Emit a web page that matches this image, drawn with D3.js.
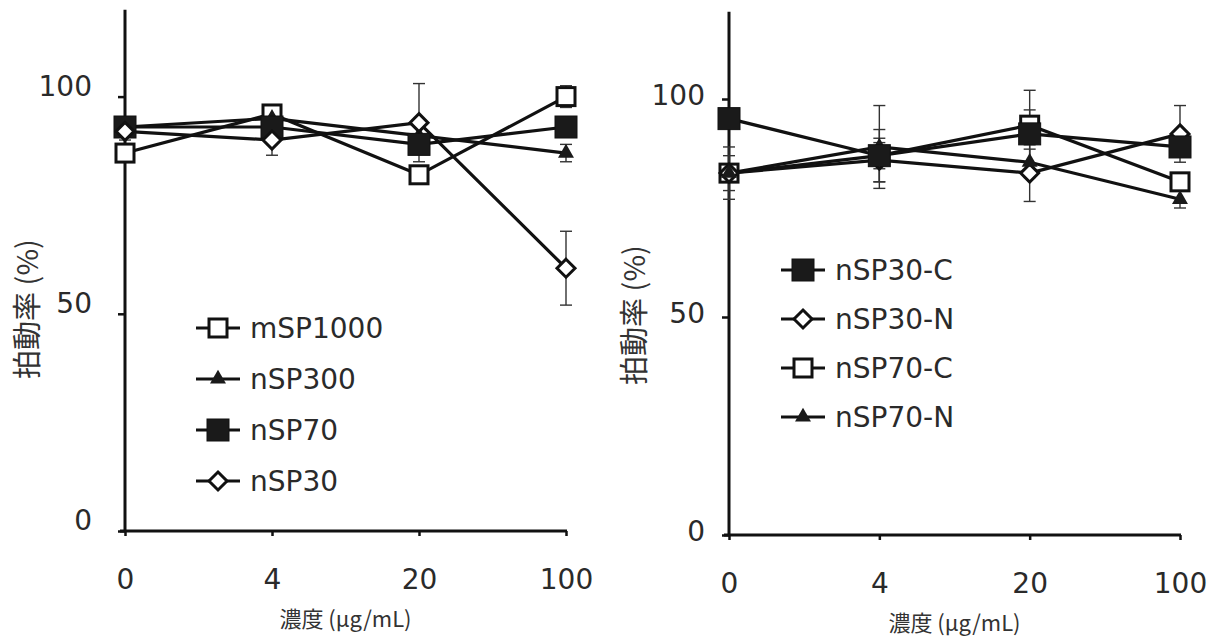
<!DOCTYPE html>
<html><head><meta charset="utf-8">
<script src="https://cdn.jsdelivr.net/npm/d3@7"></script>
<style>body{margin:0;background:#fff}svg{display:block}</style>
</head><body><svg id="c" width="1220" height="643"></svg>
<script>
const categories = ["0","4","20","100"];
const yTicks = [0,50,100];

// Left panel series
const mSP1000 = [87, 96, 82, 100];
const mSP1000Err = [1.5, 2, 2, 2.5];
const nSP300 = [93, 95, 91, 87];
const nSP300Err = [2, 2, 2, 2];
const nSP70 = [93, 93, 89, 93];
const nSP70Err = [2, 2, 2, 2];
const nSP30 = [92, 90, 94, 60.5];
const nSP30Err = [2, 3.5, 9, 8.5];

// Right panel series
const nSP30C = [95.5, 87, 92, 89];
const nSP30CErr = [2, 6, 10, 2];
const nSP30N = [83, 86, 83, 92];
const nSP30NErr = [6, 5, 6.5, 6.5];
const nSP70C = [83, 87, 94, 81];
const nSP70CErr = [2, 3, 3.5, 2];
const nSP70N = [83, 89, 85.5, 77];
const nSP70NErr = [4, 9.5, 3, 2];

const leftSeries = [
  {name:"mSP1000", v:mSP1000, e:mSP1000Err, m:"osq"},
  {name:"nSP300", v:nSP300, e:nSP300Err, m:"tri"},
  {name:"nSP70", v:nSP70, e:nSP70Err, m:"fsq"},
  {name:"nSP30", v:nSP30, e:nSP30Err, m:"dia"}
];
const rightSeries = [
  {name:"nSP30-C", v:nSP30C, e:nSP30CErr, m:"fsq"},
  {name:"nSP30-N", v:nSP30N, e:nSP30NErr, m:"dia"},
  {name:"nSP70-C", v:nSP70C, e:nSP70CErr, m:"osq"},
  {name:"nSP70-N", v:nSP70N, e:nSP70NErr, m:"tri"}
];
const leftDrawOrder = [0,1,2,3];
const rightDrawOrder = [2,1,3,0];

const svg = d3.select("#c");
const FONT = "'DejaVu Sans', Verdana, sans-serif";
const CJK = "'Noto Sans CJK JP', sans-serif";
const TXT = "#2a2a2a";

function marker(g, type, x, y) {
  if (type === "osq") {
    g.append("rect").attr("x", x-9).attr("y", y-9).attr("width",18).attr("height",18)
      .attr("fill","#fff").attr("stroke","#111").attr("stroke-width",3);
  } else if (type === "fsq") {
    g.append("rect").attr("x", x-11).attr("y", y-11).attr("width",22).attr("height",22)
      .attr("fill","#1a1a1a").attr("stroke","#111").attr("stroke-width",1);
  } else if (type === "tri") {
    g.append("path").attr("d", d3.symbol(d3.symbolTriangle, 110)()).attr("transform",`translate(${x},${y})`)
      .attr("fill","#1a1a1a");
  } else if (type === "dia") {
    g.append("path").attr("d", `M${x},${y-9}L${x+9},${y}L${x},${y+9}L${x-9},${y}Z`)
      .attr("fill","#fff").attr("stroke","#111").attr("stroke-width",3);
  }
}

function panel(opt) {
  const g = svg.append("g");
  const x = d3.scalePoint().domain(categories).range([opt.x0, opt.x1]);
  const y = d3.scaleLinear().domain([0,120]).range([opt.y0, opt.y0 - 120*opt.k]);

  const ya = g.append("g").attr("transform",`translate(${opt.x0},0)`)
    .call(d3.axisLeft(y).tickValues(yTicks).tickSize(7).tickFormat(d3.format("d")));
  ya.select(".domain").attr("stroke","#111").attr("stroke-width",3).attr("d",`M0,${y(120)}V${y(0)}`);
  ya.selectAll(".tick line").attr("stroke","#111").attr("stroke-width",2.5);
  ya.selectAll(".tick text").attr("font-family",FONT).attr("font-size",28).attr("fill",TXT)
    .attr("x",opt.ylx).attr("y",opt.yly);

  const xa = g.append("g").attr("transform",`translate(0,${opt.y0})`)
    .call(d3.axisBottom(x).tickSize(5).tickSizeOuter(0));
  xa.select(".domain").attr("stroke","#111").attr("stroke-width",3).attr("d",`M${opt.x0-5},0H${opt.x1+1}`);
  xa.selectAll(".tick line").attr("stroke","#111").attr("stroke-width",2.5);
  xa.selectAll(".tick text").attr("font-family",FONT).attr("font-size",28).attr("fill",TXT).attr("y",38);

  g.append("text").attr("x",(opt.x0+opt.x1)/2 + opt.xtOff).attr("y",opt.y0+96).attr("text-anchor","middle")
    .attr("font-family",CJK).attr("font-size",22).attr("fill","#333").text("濃度 (μg/mL)");
  g.append("text").attr("transform",`translate(${opt.ytx},${opt.yty}) rotate(-90)`).attr("text-anchor","middle")
    .attr("font-family",CJK).attr("font-size",29).attr("fill","#333").text("拍動率 (%)");

  const line = d3.line().x((d,i)=>x(categories[i])).y(d=>y(d));
  const order = opt.order;
  order.forEach(si => {
    const s = opt.series[si];
    g.append("path").attr("d", line(s.v)).attr("fill","none").attr("stroke","#111").attr("stroke-width",3.2);
  });
  order.forEach(si => {
    const s = opt.series[si];
    s.v.forEach((v,i) => {
      const cx = x(categories[i]);
      const eb = g.append("g").attr("stroke","#333").attr("stroke-width",1.4);
      eb.append("line").attr("x1",cx).attr("x2",cx).attr("y1",y(v+s.e[i])).attr("y2",y(v-s.e[i]));
      eb.append("line").attr("x1",cx-6).attr("x2",cx+6).attr("y1",y(v+s.e[i])).attr("y2",y(v+s.e[i]));
      eb.append("line").attr("x1",cx-6).attr("x2",cx+6).attr("y1",y(v-s.e[i])).attr("y2",y(v-s.e[i]));
    });
  });
  order.forEach(si => {
    const s = opt.series[si];
    s.v.forEach((v,i) => marker(g, s.m, x(categories[i]), y(v)));
  });
  opt.series.forEach((s,i) => {
    const ly = opt.ly + i*opt.lstep;
    g.append("line").attr("x1",opt.lx-22).attr("x2",opt.lx+22).attr("y1",ly).attr("y2",ly)
      .attr("stroke","#111").attr("stroke-width",3);
    marker(g, s.m, opt.lx, ly);
    g.append("text").attr("x",opt.lx+32).attr("y",ly).attr("dy","0.36em")
      .attr("font-family",FONT).attr("font-size",28).attr("fill",TXT).text(s.name);
  });
}

panel({x0:125, x1:566, y0:531, k:4.344, series:leftSeries, order:leftDrawOrder,
  lx:218, ly:328, lstep:51, xtOff:0, ytx:38, yty:309, ylx:-33, yly:-10});
panel({x0:729, x1:1180, y0:535, k:4.36, series:rightSeries, order:rightDrawOrder,
  lx:803, ly:270, lstep:49, xtOff:0, ytx:645, yty:315, ylx:-24, yly:-3});
</script></body></html>
